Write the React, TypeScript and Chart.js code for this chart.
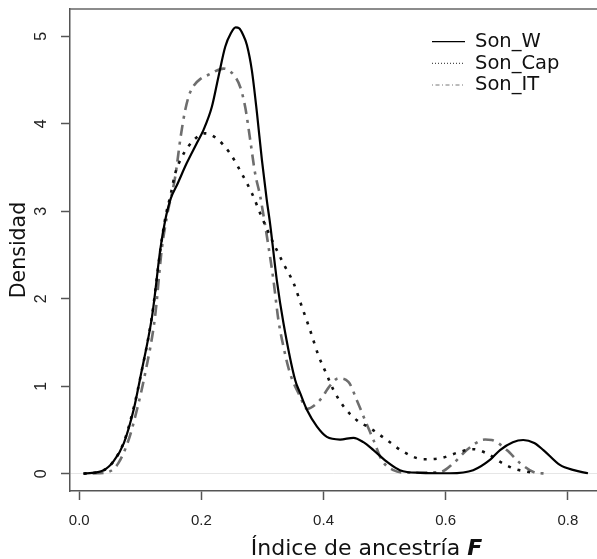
import React, { useEffect, useRef } from 'react';
import { Chart, registerables } from 'chart.js';

Chart.register(...registerables);

// ---- data ----
const seriesNames = ['Son_W', 'Son_Cap', 'Son_IT'];

const sonWX = [0.007, 0.04, 0.056, 0.073, 0.089, 0.1, 0.119, 0.123, 0.1326, 0.1408, 0.15, 0.16, 0.176, 0.1926, 0.2035, 0.217, 0.228, 0.239, 0.248, 0.256, 0.262, 0.268, 0.2745, 0.2826, 0.291, 0.299, 0.307, 0.3126, 0.3235, 0.3344, 0.3535, 0.3617, 0.3727, 0.389, 0.4054, 0.427, 0.449, 0.4653, 0.4817, 0.5036, 0.525, 0.558, 0.607, 0.645, 0.673, 0.689, 0.71, 0.727, 0.745, 0.76, 0.787, 0.81, 0.833];
const sonWY = [0, 0.04, 0.14, 0.35, 0.73, 1.1, 1.79, 2.0, 2.56, 2.9, 3.15, 3.3, 3.55, 3.78, 3.93, 4.19, 4.54, 4.88, 5.03, 5.1, 5.09, 5.02, 4.9, 4.61, 4.12, 3.59, 3.13, 2.85, 2.21, 1.72, 1.07, 0.92, 0.73, 0.54, 0.42, 0.39, 0.41, 0.36, 0.27, 0.137, 0.04, 0.01, 0.005, 0.04, 0.16, 0.27, 0.36, 0.385, 0.35, 0.27, 0.1, 0.04, 0.005];

const sonCapX = [0.007, 0.04, 0.056, 0.073, 0.089, 0.1, 0.119, 0.1326, 0.1408, 0.15, 0.157, 0.168, 0.187, 0.206, 0.225, 0.247, 0.266, 0.283, 0.296, 0.3077, 0.321, 0.3344, 0.3508, 0.3644, 0.378, 0.3917, 0.4054, 0.416, 0.4326, 0.4545, 0.4763, 0.5036, 0.5308, 0.5635, 0.591, 0.6236, 0.645, 0.667, 0.689, 0.711, 0.738, 0.745];
const sonCapY = [0, 0.04, 0.14, 0.36, 0.75, 1.1, 1.8, 2.55, 2.92, 3.2, 3.43, 3.62, 3.81, 3.89, 3.83, 3.66, 3.43, 3.2, 2.98, 2.79, 2.59, 2.4, 2.18, 1.91, 1.64, 1.35, 1.13, 0.96, 0.77, 0.61, 0.52, 0.385, 0.25, 0.165, 0.176, 0.25, 0.28, 0.233, 0.137, 0.06, 0.016, 0.005];

const sonITX = [0.007, 0.03, 0.048, 0.064, 0.0807, 0.0944, 0.108, 0.124, 0.135, 0.1435, 0.157, 0.166, 0.173, 0.18, 0.188, 0.198, 0.2117, 0.236, 0.2526, 0.2635, 0.2717, 0.28, 0.288, 0.296, 0.3017, 0.31, 0.318, 0.326, 0.3344, 0.345, 0.3617, 0.3727, 0.394, 0.411, 0.4244, 0.4407, 0.4545, 0.468, 0.4817, 0.4953, 0.5144, 0.54, 0.591, 0.6127, 0.6345, 0.659, 0.6645, 0.6754, 0.7, 0.722, 0.7436, 0.765];
const sonITY = [0, 0.005, 0.02, 0.12, 0.385, 0.73, 1.15, 1.79, 2.56, 2.94, 3.39, 3.85, 4.14, 4.33, 4.44, 4.51, 4.56, 4.63, 4.56, 4.42, 4.19, 3.81, 3.43, 3.18, 2.95, 2.59, 2.21, 1.76, 1.45, 1.15, 0.88, 0.74, 0.84, 1.01, 1.09, 1.05, 0.84, 0.61, 0.385, 0.157, 0.04, 0.01, 0.02, 0.12, 0.27, 0.385, 0.39, 0.385, 0.27, 0.12, 0.02, 0];

const xTicks = [0, 0.2, 0.4, 0.6, 0.8];
const yTicks = [0, 1, 2, 3, 4, 5];
const xTitleMain = 'Índice de ancestría ';
const xTitleVar = 'F';
const yTitle = 'Densidad';

const toPts = (xs: number[], ys: number[]) => xs.map((x, i) => ({ x, y: ys[i] }));

const legendStyles = [
  { color: '#000', width: 1.2, dash: [] as number[] },
  { color: '#222', width: 1, dash: [1, 2] },
  { color: '#777', width: 1, dash: [1, 2.5, 4, 2.5] },
];

const decorPlugin = {
  id: 'decor',
  afterDraw(chart: any) {
    const { ctx, chartArea } = chart;
    ctx.save();
    // top box line
    ctx.strokeStyle = '#666';
    ctx.lineWidth = 1.5;
    ctx.beginPath();
    ctx.moveTo(chartArea.left, chartArea.top);
    ctx.lineTo(chartArea.right, chartArea.top);
    ctx.stroke();

    // x-axis title with bold italic F
    const fMain = '22px "DejaVu Sans"';
    const fVar = 'italic bold 22px "DejaVu Sans"';
    ctx.font = fMain;
    const w1 = ctx.measureText(xTitleMain).width;
    ctx.font = fVar;
    const w2 = ctx.measureText(xTitleVar).width;
    const cx = 366.5;
    const by = 555;
    const startX = cx - (w1 + w2) / 2;
    ctx.fillStyle = '#111';
    ctx.textAlign = 'left';
    ctx.textBaseline = 'alphabetic';
    ctx.font = fMain;
    ctx.fillText(xTitleMain, startX, by);
    ctx.font = fVar;
    ctx.fillText(xTitleVar, startX + w1, by);

    // legend
    const lx0 = 432, lx1 = 465, tx = 475;
    const rowY = [41.7, 63.3, 85];
    seriesNames.forEach((name, i) => {
      const st = legendStyles[i];
      ctx.strokeStyle = st.color;
      ctx.lineWidth = st.width;
      ctx.setLineDash(st.dash);
      ctx.beginPath();
      ctx.moveTo(lx0, rowY[i]);
      ctx.lineTo(lx1, rowY[i]);
      ctx.stroke();
      ctx.setLineDash([]);
      ctx.font = '19.5px "DejaVu Sans"';
      ctx.fillStyle = '#111';
      ctx.fillText(name, tx, rowY[i] + 5.3);
    });
    ctx.restore();
  },
};

export default function App() {
  const ref = useRef<HTMLCanvasElement | null>(null);
  useEffect(() => {
    if (!ref.current) return;
    const tickFont = { family: '"Liberation Sans", Arial, sans-serif', size: 15 };
    const yTickFont = { family: '"Liberation Sans", Arial, sans-serif', size: 16 };
    const chart = new Chart(ref.current, {
      type: 'line',
      data: {
        datasets: [
          {
            label: seriesNames[0],
            data: toPts(sonWX, sonWY),
            borderColor: '#000',
            borderWidth: 2.2,
            pointRadius: 0,
            cubicInterpolationMode: 'monotone',
            fill: false,
          },
          {
            label: seriesNames[1],
            data: toPts(sonCapX, sonCapY),
            borderColor: '#111',
            borderWidth: 2.6,
            borderDash: [3, 7],
            pointRadius: 0,
            cubicInterpolationMode: 'monotone',
            fill: false,
          },
          {
            label: seriesNames[2],
            data: toPts(sonITX, sonITY),
            borderColor: '#6e6e6e',
            borderWidth: 2.6,
            borderDash: [3, 6, 11, 6],
            pointRadius: 0,
            cubicInterpolationMode: 'monotone',
            fill: false,
          },
        ],
      },
      options: {
        responsive: false,
        animation: false,
        layout: { padding: { top: 9, right: 0, left: 0, bottom: 0 } },
        plugins: { legend: { display: false }, tooltip: { enabled: false } },
        scales: {
          x: {
            type: 'linear',
            min: -0.0152,
            max: 0.8478,
            afterBuildTicks: (s: any) => {
              s.ticks = xTicks.map((v) => ({ value: v }));
            },
            afterFit: (s: any) => {
              s.height = 68;
              s.paddingLeft = 0;
              s.paddingRight = 0;
              s.paddingTop = 0;
              s.paddingBottom = 0;
            },
            ticks: {
              autoSkip: false,
              maxRotation: 0,
              padding: 12,
              font: tickFont,
              color: '#222',
              callback: (v: any) => Number(v).toFixed(1),
            },
            grid: { drawOnChartArea: false, tickColor: '#555', tickLength: 9, tickWidth: 1.5 },
            border: { display: true, color: '#555', width: 1.5 },
          },
          y: {
            type: 'linear',
            min: -0.198,
            max: 5.311,
            afterBuildTicks: (s: any) => {
              s.ticks = yTicks.map((v) => ({ value: v }));
            },
            afterFit: (s: any) => {
              s.width = 70;
              s.paddingLeft = 0;
              s.paddingRight = 0;
              s.paddingTop = 0;
              s.paddingBottom = 0;
            },
            ticks: {
              autoSkip: false,
              minRotation: 90,
              maxRotation: 90,
              crossAlign: 'center',
              padding: 15,
              font: yTickFont,
              color: '#222',
              callback: (v: any) => String(v),
            },
            grid: {
              drawOnChartArea: true,
              color: (c: any) => (c.tick && c.tick.value === 0 ? '#e6e6e6' : 'rgba(0,0,0,0)'),
              lineWidth: 1,
              tickColor: '#555',
              tickLength: 9,
              tickWidth: 1.5,
            },
            border: { display: true, color: '#555', width: 1.5 },
            title: {
              display: true,
              text: yTitle,
              color: '#111',
              font: { family: '"DejaVu Sans"', size: 20.5 },
              padding: { top: 7, bottom: 0 },
            },
          },
        },
      },
      plugins: [decorPlugin],
    } as any);
    return () => chart.destroy();
  }, []);
  return (
    <div style={{ position: 'absolute', left: 0, top: 0, width: 597, height: 559, background: '#fff' }}>
      <canvas ref={ref} width={597} height={559} />
    </div>
  );
}
